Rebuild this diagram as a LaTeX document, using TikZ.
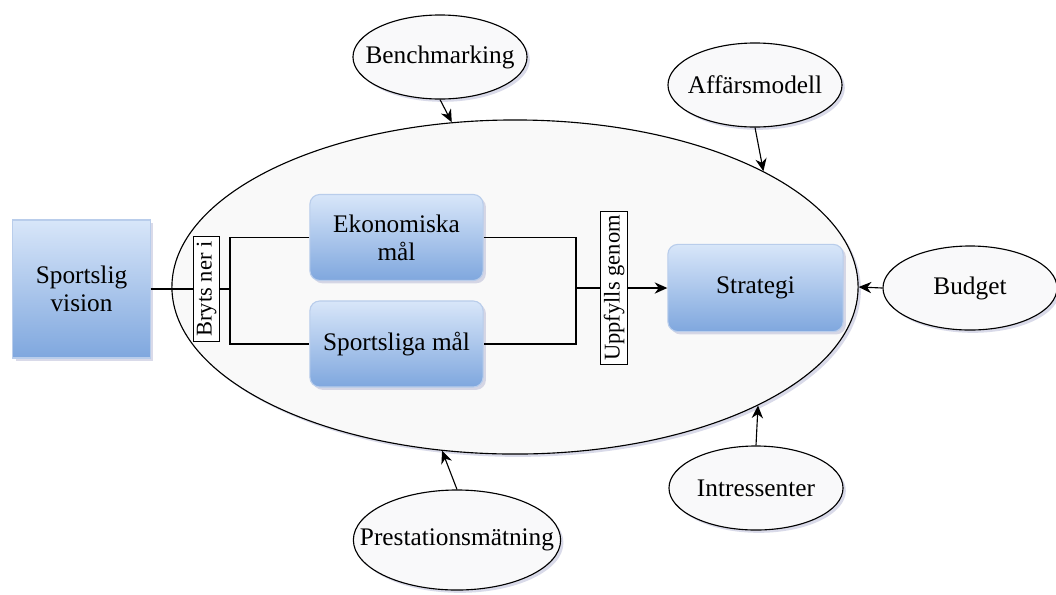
\documentclass[tikz,border=0pt]{standalone}
\usepackage{fontspec}
\setmainfont{Liberation Serif}
\usetikzlibrary{shapes.geometric,shadows,arrows.meta}
\definecolor{boxtop}{HTML}{D8E6F9}
\definecolor{boxbot}{HTML}{7FA7DE}
\definecolor{boxline}{HTML}{B9CDEB}
\definecolor{bubblefill}{HTML}{F9F9FA}
\definecolor{hubfill}{HTML}{F9F9F9}
\definecolor{shadowblue}{HTML}{9497C2}
\begin{document}
\begin{tikzpicture}[x=0.025cm, y=-0.025cm,
    font=\fontsize{18}{20}\selectfont,
    line width=0.8pt,
    softshadow/.style={drop shadow={shadow xshift=2pt, shadow yshift=-2pt, opacity=0.35, fill=shadowblue}},
    hub/.style={ellipse, draw, fill=hubfill, inner sep=0pt, minimum width=17.15cm, minimum height=8.35cm, softshadow},
    goal/.style={rectangle, rounded corners=7pt, draw=boxline, top color=boxtop, bottom color=boxbot, minimum width=4.33cm, minimum height=2.15cm, align=center, softshadow},
    visionbox/.style={rectangle, draw=boxline, top color=boxtop, bottom color=boxbot, minimum width=3.43cm, minimum height=3.45cm, align=center, softshadow},
    tag/.style={rectangle, draw, fill=white, rotate=90, inner sep=1pt, minimum height=0.67cm, font=\fontsize{16}{18}\selectfont},
    bubble/.style={ellipse, draw, fill=bubblefill, inner sep=0pt, minimum width=4.35cm, minimum height=2.1cm, softshadow,
        execute at begin node=\hbox to 0pt\bgroup\hss, execute at end node=\hss\egroup},
    arr/.style={-{Stealth[length=9pt, width=8pt]}}]

    \useasboundingbox[fill=white] (0,0) rectangle (1056,594);

    % Big ellipse
    \node[hub] (hub) at (515,287) {};

    % Vision and goals
    \node[visionbox] (vision) at (81.5,289) {Sportslig\\vision};
    \node[goal] (ekon) at (396.5,237.5) {Ekonomiska\\mål};
    \node[goal] (sport) at (396.5,344) {Sportsliga mål};
    \node[goal, minimum width=4.38cm, minimum height=2.18cm] (strat) at (755.5,288) {Strategi};

    % Vertical labels
    \node[tag, minimum width=2.63cm] (bryts) at (206.5,289) {Bryts ner i};
    \node[tag, minimum width=3.83cm] (uppf) at (614,288) {Uppfylls genom};

    % Branching lines
    \coordinate (split) at (230,289);
    \coordinate (join) at (576,288);
    \draw (vision) -- (bryts) -- (split);
    \draw (ekon.west) -| (split) |- (sport.west);
    \draw (ekon.east) -| (join) |- (sport.east);
    \draw (join) -- (uppf);
    \draw[arr] (uppf) -- (strat);

    % Outer influences
    \foreach \name/\px/\py/\txt in {bench/440/57/Benchmarking, aff/755/85/Affärsmodell, budget/970/288/Budget, intr/756/488/Intressenter} {
        \node[bubble] (\name) at (\px,\py) {\txt};
    }
    \node[bubble, minimum width=5.18cm, minimum height=2.5cm] (prest) at (457,540) {Prestationsmätning};

    \foreach \from/\to in {bench.south/111.6, aff.south/25.8, budget.west/east, intr.north/-26.6, prest.north/-114} {
        \draw[arr] (\from) -- (hub.\to);
    }
\end{tikzpicture}
\end{document}
